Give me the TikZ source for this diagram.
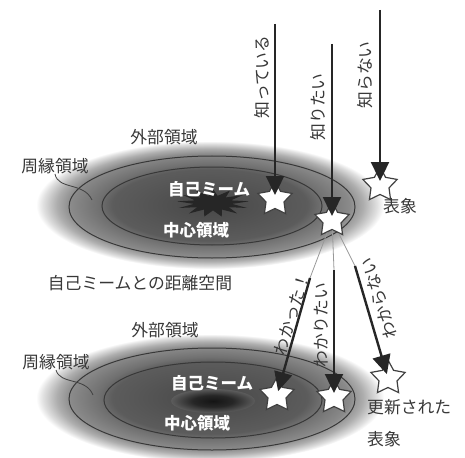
\documentclass[tikz,border=0pt]{standalone}
\usepackage{fontspec}
\newfontfamily\jp{Noto Sans CJK JP}
\usetikzlibrary{shapes.geometric,arrows.meta}
\pgfdeclareradialshading{halo}{\pgfpoint{0bp}{0bp}}{color(0bp)=(black!72); color(14bp)=(black!64); color(16bp)=(black!56); color(20bp)=(black!46); color(22bp)=(black!32); color(24bp)=(black!12); color(25bp)=(white); color(50bp)=(white)}
\pgfdeclareradialshading{blob}{\pgfpoint{0bp}{0bp}}{color(0bp)=(black!92); color(12bp)=(black!85); color(25bp)=(black!64); color(50bp)=(black!64)}
\tikzset{
  lab/.style={font=\jp\fontsize{16.8}{17}\selectfont, text=black!78, inner sep=0pt},
  wlab/.style={font=\jp\bfseries\fontsize{16.5}{17}\selectfont, text=white, inner sep=0pt},
  starn/.style={star, star points=5, star point ratio=1.9, minimum size=36pt, fill=white, draw=black!75, line width=1.2pt, inner sep=0pt},
  burst/.style={star, star points=13, star point ratio=1.9, minimum size=28pt, fill=black!85, draw=none, inner sep=0pt, xscale=2.6},
  ring/.style={draw=black!78, line width=1pt},
  arr/.style={draw=black!85, line width=2.4pt, -{Triangle[length=19pt,width=18pt]}},
  thinline/.style={draw=black!40, line width=0.8pt},
  leader/.style={draw=black!75, line width=0.8pt}
}
\begin{document}
\begin{tikzpicture}[x=1pt,y=-1pt]
\useasboundingbox (0,0) rectangle (465,457);
\fill[white] (0,0) rectangle (465,457);

% ---------- top group ----------
\shade[shading=halo] (210,205) ellipse (174 and 64);
\draw[ring] (212,207) ellipse (143 and 51);
\draw[ring] (212,206) ellipse (110 and 39);
\node[burst] (cb1) at (213,203) {};
\node[wlab] (self1) at (209,189) {自己ミーム};
\node[wlab] (core1) at (196,230) {中心領域};
\node[lab] (ext1) at (164,137) {外部領域};
\node[lab] (per1) at (55,166) {周縁領域};
\coordinate (pe1) at (92,200);
\draw[leader] (per1.south) .. controls (58,190) and (84,182) .. (pe1);

\node[starn] (s1) at (275,199) {};
\node[starn] (s2) at (332,220) {};
\node[starn] (s3) at (380,185) {};
\node[lab] (rep1) at (400,206) {表象};

\coordinate (a1) at (275,24);
\coordinate (a2) at (332,44);
\coordinate (a3) at (380,10);
\draw[arr, shorten >=4pt] (a1) -- (s1.center);
\draw[arr, shorten >=4pt] (a2) -- (s2.center);
\draw[arr, shorten >=4pt] (a3) -- (s3.center);
\node[lab, rotate=90] (k1) at (262,77) {知っている};
\node[lab, rotate=90] (k2) at (318,107) {知りたい};
\node[lab, rotate=90] (k3) at (365,75) {知らない};

% ---------- middle ----------
\node[lab] (dist) at (140,283) {自己ミームとの距離空間};

% ---------- bottom group ----------
\shade[shading=halo] (210,398) ellipse (174 and 64);
\draw[ring] (212,399) ellipse (143 and 51);
\draw[ring] (213,400) ellipse (109 and 38);
\shade[shading=blob] (213,401) ellipse (42 and 12);
\node[wlab] (self2) at (212,383) {自己ミーム};
\node[wlab] (core2) at (197,423) {中心領域};
\node[lab] (ext2) at (165,330) {外部領域};
\node[lab] (per2) at (56,362) {周縁領域};
\coordinate (pe2) at (93,395);
\draw[leader] (per2.south) .. controls (60,385) and (86,377) .. (pe2);

\coordinate (b1) at (310,278);
\coordinate (b2) at (334,270);
\coordinate (b3) at (355,266);
\draw[thinline] (s2) -- (b1);
\draw[thinline] (s2) -- (b2);
\draw[thinline] (s2) -- (b3);

\node[starn] (l1) at (277,395) {};
\node[starn] (l2) at (334,397) {};
\node[starn] (l3) at (388,378) {};
\draw[arr, shorten >=4pt] (b1) -- (l1.center);
\draw[arr, shorten >=4pt] (b2) -- (l2.center);
\draw[arr, shorten >=4pt] (b3) -- (l3.center);
\node[lab, rotate=73] (w1) at (292,314) {わかった！};
\node[lab, rotate=90] (w2) at (321,325) {わかりたい};
\node[lab, rotate=107] (w3) at (379,298) {わからない};

\node[lab, anchor=west] (upd) at (367,407) {更新された};
\node[lab, anchor=west] (rep2) at (367,439) {表象};
\end{tikzpicture}
\end{document}
